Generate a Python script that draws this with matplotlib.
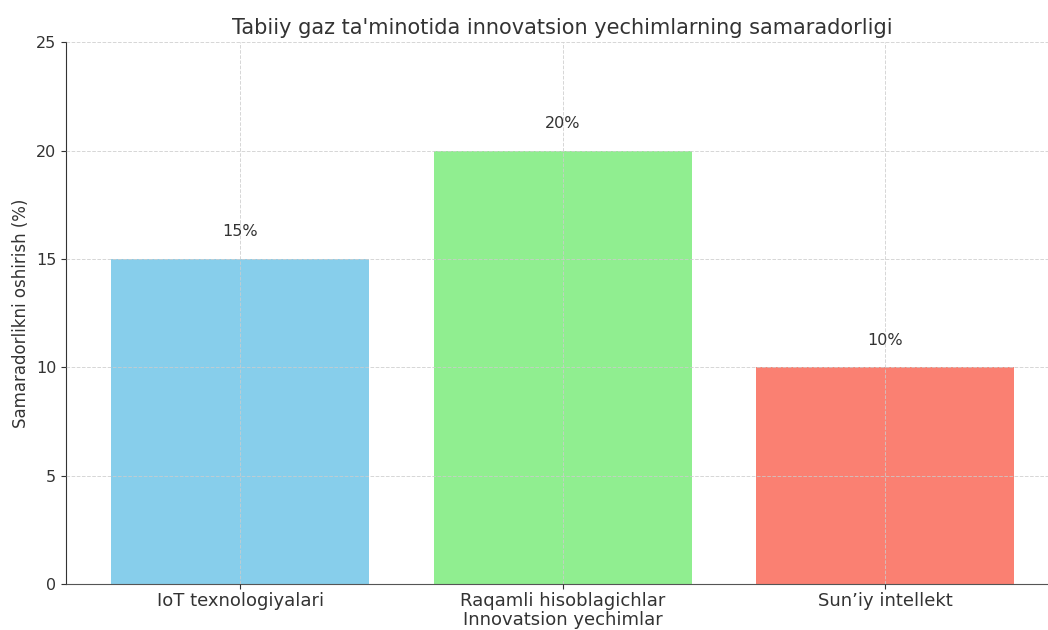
import matplotlib.pyplot as plt

# Data
categories = ["IoT texnologiyalari", "Raqamli hisoblagichlar", "Sun\u2019iy intellekt"]
efficiency = [15, 20, 10]
bar_colors = ["skyblue", "lightgreen", "salmon"]

fig = plt.figure(figsize=(10.48, 6.3), dpi=100)
ax = fig.add_axes([0.063, 0.073, 0.948, 0.86])

bars = ax.bar(categories, efficiency, color=bar_colors, width=0.8)

# Percentage labels above each bar
for bar, val in zip(bars, efficiency):
    ax.text(bar.get_x() + bar.get_width() / 2, val + 0.9, f"{val}%",
            ha="center", va="bottom", fontsize=11.5, color="#333333")

ax.set_title("Tabiiy gaz ta'minotida innovatsion yechimlarning samaradorligi",
             fontsize=15, color="#333333", pad=6)
ax.set_xlabel("Innovatsion yechimlar", fontsize=13, color="#333333", labelpad=1)
ax.set_ylabel("Samaradorlikni oshirish (%)", fontsize=12, color="#333333", labelpad=4)
ax.set_ylim(0, 25)

ax.tick_params(axis="x", labelsize=13, colors="#333333", pad=2)
ax.tick_params(axis="y", labelsize=11.5, colors="#333333")
ax.grid(True, linestyle="--", color="#cccccc", linewidth=0.7, alpha=0.8)
ax.set_axisbelow(False)

for side in ("top", "right"):
    ax.spines[side].set_visible(False)
ax.spines["left"].set_color("#333333")
ax.spines["bottom"].set_color("#555555")

fig.savefig("out.png", dpi=100)
